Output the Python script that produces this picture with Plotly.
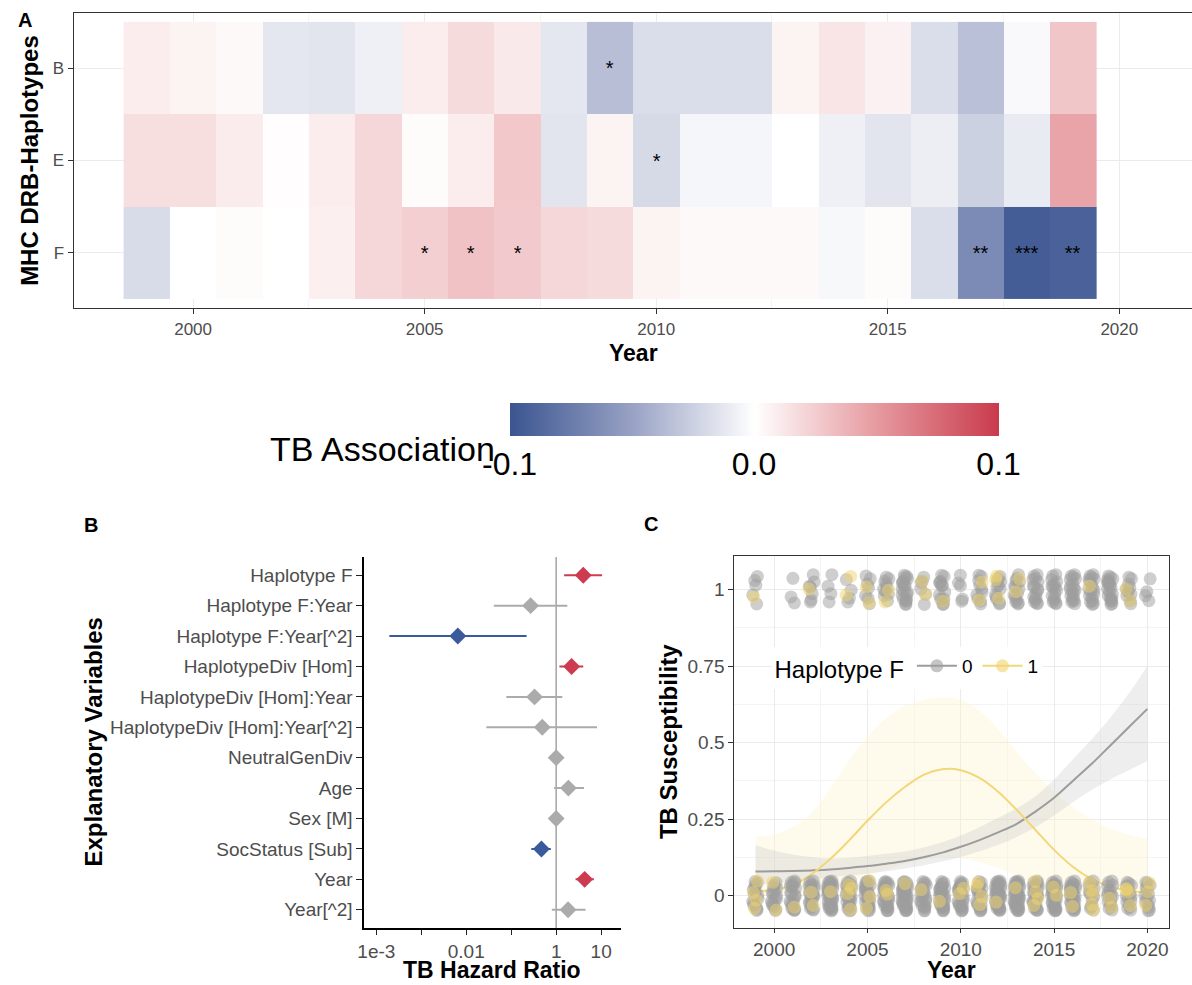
import plotly.graph_objects as go

W, H = 1192, 985
FONT = "Liberation Sans, Arial, Helvetica, sans-serif"


def px(x):
    return x / W


def py(y):
    return 1 - y / H


# ---------------- Panel A data: TB association per haplotype and year ----------------
years = list(range(1999, 2020))
haplotypes = ["F", "E", "B"]
assoc_B = [0.009, 0.006, 0.003, -0.013, -0.014, -0.008, 0.009, 0.018, 0.011, -0.013, -0.035,
           -0.018, -0.018, -0.018, 0.006, 0.013, 0.007, -0.018, -0.034, -0.003, 0.028]
assoc_E = [0.016, 0.016, 0.010, 0.001, 0.009, 0.020, 0.002, 0.009, 0.027, -0.014, 0.006,
           -0.020, -0.005, -0.005, 0.000, -0.008, -0.014, -0.009, -0.025, -0.011, 0.045]
assoc_F = [-0.019, 0.000, 0.002, 0.000, 0.008, 0.020, 0.024, 0.030, 0.026, 0.020, 0.018,
           0.006, 0.003, 0.003, 0.003, -0.004, 0.002, -0.018, -0.065, -0.095, -0.092]
sig_B = ["", "", "", "", "", "", "", "", "", "", "*", "", "", "", "", "", "", "", "", "", ""]
sig_E = ["", "", "", "", "", "", "", "", "", "", "", "*", "", "", "", "", "", "", "", "", ""]
sig_F = ["", "", "", "", "", "", "*", "*", "*", "", "", "", "", "", "", "", "", "", "**", "***", "**"]
cbar_ticks = [-0.1, 0.0, 0.1]
cbar_labels = ["-0.1", "0.0", "0.1"]

# ---------------- Panel B data: hazard ratios ----------------
terms = ["Haplotype F", "Haplotype F:Year", "Haplotype F:Year[^2]", "HaplotypeDiv [Hom]",
         "HaplotypeDiv [Hom]:Year", "HaplotypeDiv [Hom]:Year[^2]", "NeutralGenDiv", "Age",
         "Sex [M]", "SocStatus [Sub]", "Year", "Year[^2]"]
hr = [4.0, 0.27, 0.0065, 2.2, 0.33, 0.49, 1.0, 1.87, 1.0, 0.47, 4.3, 1.84]
hr_lo = [1.5, 0.041, 0.000195, 1.18, 0.078, 0.028, 0.85, 0.9, 0.92, 0.28, 2.7, 0.8]
hr_hi = [10.5, 1.77, 0.22, 4.0, 1.37, 8.1, 1.18, 4.15, 1.08, 0.76, 6.9, 4.5]
effect = ["pos", "ns", "neg", "pos", "ns", "ns", "ns", "ns", "ns", "neg", "pos", "ns"]
hr_tickvals = [1e-4, 1e-3, 1e-2, 1e-1, 1, 10]
hr_ticktext = ["1e-3", "", "0.01", "", "1", "10"]

# ---------------- Panel C data: susceptibility ----------------
fit_years = list(range(1999, 2021))
p0_fit = [0.079, 0.080, 0.081, 0.083, 0.086, 0.091, 0.097, 0.105, 0.114, 0.126, 0.141,
          0.160, 0.182, 0.207, 0.235, 0.275, 0.320, 0.375, 0.430, 0.490, 0.550, 0.610]
p0_lo = [0.035, 0.042, 0.048, 0.054, 0.060, 0.066, 0.072, 0.080, 0.089, 0.099, 0.112,
         0.127, 0.145, 0.166, 0.192, 0.224, 0.262, 0.305, 0.345, 0.380, 0.410, 0.440]
p0_hi = [0.165, 0.148, 0.135, 0.127, 0.122, 0.124, 0.130, 0.137, 0.145, 0.158, 0.175,
         0.197, 0.224, 0.255, 0.286, 0.325, 0.380, 0.445, 0.510, 0.580, 0.660, 0.750]
p1_fit = [0.015, 0.020, 0.035, 0.070, 0.120, 0.180, 0.245, 0.305, 0.355, 0.395, 0.413,
          0.410, 0.385, 0.340, 0.280, 0.215, 0.150, 0.095, 0.055, 0.030, 0.017, 0.010]
p1_lo = [0.001, 0.003, 0.006, 0.012, 0.025, 0.045, 0.065, 0.085, 0.105, 0.118, 0.125,
         0.122, 0.110, 0.090, 0.065, 0.045, 0.028, 0.015, 0.008, 0.004, 0.002, 0.001]
p1_hi = [0.195, 0.200, 0.225, 0.270, 0.350, 0.440, 0.520, 0.580, 0.620, 0.640, 0.648,
         0.640, 0.605, 0.545, 0.470, 0.400, 0.340, 0.290, 0.250, 0.220, 0.200, 0.185]
# number of animals per year with TB status 1 / 0, split by Haplotype F carrier status
n_tb1_hap0 = [5, 0, 3, 7, 4, 4, 7, 10, 20, 6, 14, 5, 10, 12, 14, 16, 16, 18, 18, 20, 10, 4]
n_tb1_hap1 = [1, 0, 0, 1, 0, 2, 2, 2, 0, 2, 1, 0, 2, 3, 2, 0, 0, 0, 1, 0, 2, 0]
n_tb0_hap0 = [15, 16, 20, 22, 35, 22, 25, 28, 35, 22, 28, 25, 20, 35, 38, 25, 30, 30, 14, 16, 15, 14]
n_tb0_hap1 = [4, 2, 1, 2, 1, 4, 3, 2, 1, 1, 1, 2, 4, 1, 1, 4, 2, 2, 5, 2, 4, 3]

# fixed jitter pattern (visual offsets only, in units of the jitter width)
JX = [-0.82, 0.35, -0.15, 0.91, -0.55, 0.12, 0.68, -0.97, 0.44, -0.28, 0.79, -0.63, 0.05, 0.57,
      -0.41, 0.95, -0.09, -0.74, 0.26, 0.63, -0.36, 0.84, -0.88, 0.18, -0.52, 0.71, -0.02, 0.39,
      -0.69, 0.98, -0.21, 0.52, -0.92, 0.09, 0.77, -0.47, 0.31, -0.79, 0.60, -0.12]
JY = [0.41, -0.77, 0.93, -0.18, -0.62, 0.27, 0.85, -0.36, -0.95, 0.58, 0.03, -0.49, 0.72, -0.88,
      0.15, 0.49, -0.69, 0.21, -0.28, 0.96, -0.82, -0.05, 0.64, -0.57, 0.88, -0.93, 0.35, 0.11,
      -0.41, 0.69, -0.15, -0.74, 0.02, 0.80, -0.31, 0.53, -0.98, 0.46, -0.63, 0.24]

RED = "#CE3A4F"
BLUE = "#3A5A9B"
GRAY = "#ABABAB"
PT_GRAY = "#9E9E9E"
PT_YEL = "#F0D36E"
LINE_YEL = "#F2D778"

fig = go.Figure()

# ---------------- Panel A ----------------
fig.add_trace(go.Heatmap(
    x=years, y=[0, 1, 2], z=[assoc_F, assoc_E, assoc_B],
    text=[sig_F, sig_E, sig_B], texttemplate="%{text}",
    textfont=dict(size=20, color="black", family=FONT),
    zmin=-0.1, zmax=0.1,
    colorscale=[[0.0, "#3B5591"], [0.25, "#98A2C4"], [0.5, "#FFFFFF"],
                [0.75, "#E69A9F"], [1.0, "#C93B4D"]],
    colorbar=dict(orientation="h", x=px(751.5), xanchor="center", y=py(402.7), yanchor="top",
                  len=489, lenmode="pixels", thickness=33, thicknessmode="pixels",
                  xpad=0, ypad=0, outlinewidth=0, tickmode="array", tickvals=cbar_ticks,
                  ticktext=cbar_labels, ticks="", tickfont=dict(size=32, color="black", family=FONT)),
    xaxis="x", yaxis="y", hoverinfo="skip"))

# ---------------- Panel B ----------------
idx = list(range(len(terms)))
fig.add_trace(go.Scatter(x=[1, 1], y=[-0.6, 11.6], mode="lines", line=dict(color="#A9A9A9", width=1.6),
                         xaxis="x2", yaxis="y2", showlegend=False, hoverinfo="skip"))
for grp, col in [("ns", GRAY), ("neg", BLUE), ("pos", RED)]:
    sel = [i for i in idx if effect[i] == grp]
    fig.add_trace(go.Scatter(
        x=[hr[i] for i in sel], y=sel, mode="markers",
        marker=dict(symbol="diamond", size=13, color=col),
        error_x=dict(type="data", symmetric=False,
                     array=[hr_hi[i] - hr[i] for i in sel],
                     arrayminus=[hr[i] - hr_lo[i] for i in sel],
                     color=col, thickness=2, width=0),
        xaxis="x2", yaxis="y2", showlegend=False, hoverinfo="skip"))

# ---------------- Panel C ----------------
for lo, hi, fillc in [(p1_lo, p1_hi, "rgba(251,243,205,0.36)"), (p0_lo, p0_hi, "rgba(195,195,195,0.28)")]:
    fig.add_trace(go.Scatter(x=fit_years, y=lo, mode="lines", line=dict(width=0, shape="spline"),
                             xaxis="x3", yaxis="y3", showlegend=False, hoverinfo="skip"))
    fig.add_trace(go.Scatter(x=fit_years, y=hi, mode="lines", line=dict(width=0, shape="spline"),
                             fill="tonexty", fillcolor=fillc,
                             xaxis="x3", yaxis="y3", showlegend=False, hoverinfo="skip"))
fig.add_trace(go.Scatter(x=fit_years, y=p0_fit, mode="lines", line=dict(color="#9C9C9C", width=2, shape="spline"),
                         xaxis="x3", yaxis="y3", showlegend=False, hoverinfo="skip"))
fig.add_trace(go.Scatter(x=fit_years, y=p1_fit, mode="lines", line=dict(color=LINE_YEL, width=2, shape="spline"),
                         xaxis="x3", yaxis="y3", showlegend=False, hoverinfo="skip"))


def jitter_points(counts, status, offset, step):
    xs, ys = [], []
    for i, (yr, n) in enumerate(zip(fit_years, counts)):
        for k in range(n):
            j = (k + offset + i * step) % len(JX)
            xs.append(yr + JX[j] * 0.15)
            ys.append(status + JY[j] * 0.05)
    return xs, ys


for counts, status, col, off, step in [(n_tb0_hap0, 0, PT_GRAY, 0, 3), (n_tb1_hap0, 1, PT_GRAY, 5, 3),
                                       (n_tb0_hap1, 0, PT_YEL, 17, 7), (n_tb1_hap1, 1, PT_YEL, 11, 7)]:
    xs, ys = jitter_points(counts, status, off, step)
    fig.add_trace(go.Scatter(x=xs, y=ys, mode="markers",
                             marker=dict(size=13, color=col, opacity=0.5, line=dict(width=0)),
                             xaxis="x3", yaxis="y3", showlegend=False, hoverinfo="skip"))

# legend-only entries
fig.add_trace(go.Scatter(x=[None], y=[None], mode="lines+markers", name="0",
                         marker=dict(size=13, color=PT_GRAY, opacity=0.6),
                         line=dict(color="#9C9C9C", width=2), xaxis="x3", yaxis="y3"))
fig.add_trace(go.Scatter(x=[None], y=[None], mode="lines+markers", name="1",
                         marker=dict(size=13, color=PT_YEL, opacity=0.6),
                         line=dict(color=LINE_YEL, width=2), xaxis="x3", yaxis="y3"))

tickfont = dict(size=17, color="#4D4D4D", family=FONT)
tickfontB = dict(size=19, color="#4D4D4D", family=FONT)

fig.update_layout(
    width=W, height=H, autosize=False,
    margin=dict(l=0, r=0, t=0, b=0),
    paper_bgcolor="white", plot_bgcolor="white",
    font=dict(family=FONT, color="black"),
    xaxis=dict(domain=[px(67), 1.0], range=[1997.42, 2021.57], anchor="y",
               tickmode="array", tickvals=[2000, 2005, 2010, 2015, 2020],
               showgrid=True, gridcolor="#EBEBEB", gridwidth=1.3,
               minor=dict(tickmode="array", tickvals=[2002.5, 2007.5, 2012.5, 2017.5],
                          showgrid=True, gridcolor="#F4F4F4", gridwidth=0.7, ticks=""),
               showline=True, linecolor="#333333", linewidth=1.2, mirror=True,
               ticks="outside", ticklen=5, tickwidth=1.2, tickcolor="#333333",
               tickfont=tickfont, zeroline=False),
    yaxis=dict(domain=[py(308), py(12.7)], range=[-0.6, 2.6], anchor="x",
               tickmode="array", tickvals=[0, 1, 2], ticktext=haplotypes,
               showgrid=True, gridcolor="#EBEBEB", gridwidth=1.3,
               showline=True, linecolor="#333333", linewidth=1.2, mirror=False,
               ticks="outside", ticklen=5, tickwidth=1.2, tickcolor="#333333",
               tickfont=tickfont, zeroline=False),
    xaxis2=dict(domain=[px(359.3), px(618)], type="log", range=[-4.27, 1.45], anchor="y2",
                tickmode="array", tickvals=hr_tickvals, ticktext=hr_ticktext,
                showgrid=False, showline=True, linecolor="black", linewidth=1.6,
                ticks="outside", ticklen=5, tickwidth=1.3, tickcolor="#222222",
                tickfont=tickfontB, zeroline=False),
    yaxis2=dict(domain=[py(928), py(557)], range=[11.6, -0.6], anchor="x2",
                tickmode="array", tickvals=idx, ticktext=terms,
                showgrid=False, showline=True, linecolor="black", linewidth=1.6,
                ticks="outside", ticklen=6, tickwidth=1.3, tickcolor="#222222",
                tickfont=tickfontB, zeroline=False),
    xaxis3=dict(domain=[px(731.7), px(1169.3)], range=[1997.87, 2021.18], anchor="y3",
                tickmode="array", tickvals=[2000, 2005, 2010, 2015, 2020],
                showgrid=True, gridcolor="#EBEBEB", gridwidth=1.3,
                minor=dict(tickmode="array", tickvals=[2002.5, 2007.5, 2012.5, 2017.5],
                           showgrid=True, gridcolor="#F4F4F4", gridwidth=0.7, ticks=""),
                showline=True, linecolor="#333333", linewidth=1.2, mirror=True,
                ticks="outside", ticklen=4, tickwidth=1.2, tickcolor="#333333",
                tickfont=tickfontB, zeroline=False),
    yaxis3=dict(domain=[py(927.7), py(556)], range=[-0.104, 1.109], anchor="x3",
                tickmode="array", tickvals=[0, 0.25, 0.5, 0.75, 1],
                ticktext=["0", "0.25", "0.5", "0.75", "1"],
                showgrid=True, gridcolor="#EBEBEB", gridwidth=1.3,
                minor=dict(tickmode="array", tickvals=[0.125, 0.375, 0.625, 0.875],
                           showgrid=True, gridcolor="#F4F4F4", gridwidth=0.7, ticks=""),
                showline=True, linecolor="#333333", linewidth=1.2, mirror=True,
                ticks="outside", ticklen=5, tickwidth=1.2, tickcolor="#333333",
                tickfont=tickfontB, zeroline=False),
    legend=dict(x=px(770), y=py(647), xanchor="left", yanchor="top", orientation="h",
                traceorder="normal",
                title=dict(text="Haplotype F", side="left", font=dict(size=24, color="black", family=FONT)),
                font=dict(size=19, color="black", family=FONT), bgcolor="white",
                itemwidth=40),
)

ann = []


def add_ann(text, x, y, size, bold=False, angle=0, xanchor="center", yanchor="middle", color="black"):
    ann.append(dict(text=("<b>%s</b>" % text) if bold else text, x=px(x), y=py(y),
                    xref="paper", yref="paper", showarrow=False, textangle=angle,
                    xanchor=xanchor, yanchor=yanchor,
                    font=dict(size=size, color=color, family=FONT)))


add_ann("A", 18, 20, 20, bold=True)
add_ann("B", 84, 525, 20, bold=True)
add_ann("C", 648, 524, 20, bold=True)
add_ann("MHC DRB-Haplotypes", 22, 160, 24, bold=True, angle=-90)
add_ann("Year", 630, 353, 23, bold=True)
add_ann("TB Association", 263, 449, 34, xanchor="left")
add_ann("Explanatory Variables", 87, 742, 24, bold=True, angle=-90)
add_ann("TB Hazard Ratio", 488, 985, 23, bold=True, yanchor="bottom")
add_ann("TB Susceptibility", 665, 742, 24, bold=True, angle=-90)
add_ann("Year", 950, 985, 23, bold=True, yanchor="bottom")
fig.update_layout(annotations=ann)

fig.write_html("out.html")
